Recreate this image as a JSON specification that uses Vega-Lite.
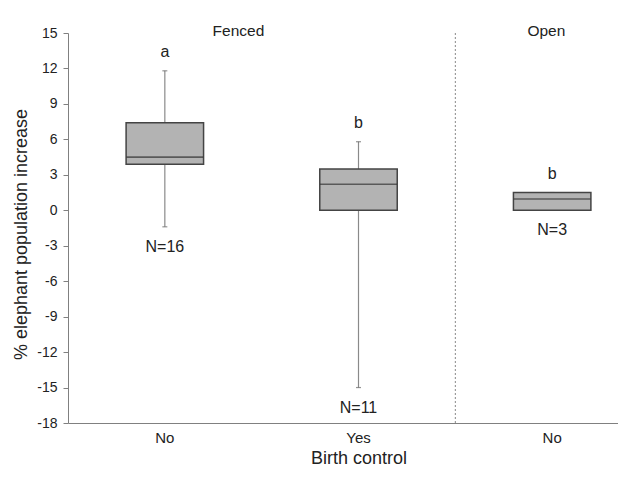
{
  "$schema": "https://vega.github.io/schema/vega-lite/v6.json",
  "width": 550,
  "height": 390,
  "autosize": {"type": "none"},
  "padding": {"left": 68, "top": 33, "right": 0, "bottom": 56},
  "background": "white",
  "config": {
    "view": {"stroke": null},
    "font": "Liberation Sans",
    "axis": {"grid": false, "domainColor": "#808080", "tickColor": "#808080", "labelColor": "#222", "titleColor": "#222", "labelFont": "Liberation Sans", "titleFont": "Liberation Sans", "titleFontWeight": "normal", "labelOverlap": false},
    "axisY": {"tickSize": 5, "labelFontSize": 14, "labelPadding": 6, "titleFontSize": 18, "titlePadding": 6, "titleY": 201}
  },
  "data": {
    "values": [
      {"key": "Fenced No", "site": "Fenced", "bc": "No", "min": -1.4, "q1": 3.9, "median": 4.5, "q3": 7.4, "max": 11.8, "letter": "a", "n": "N=16"},
      {"key": "Fenced Yes", "site": "Fenced", "bc": "Yes", "min": -15.0, "q1": 0.0, "median": 2.2, "q3": 3.5, "max": 5.8, "letter": "b", "n": "N=11"},
      {"key": "Open No", "site": "Open", "bc": "No", "min": 0.0, "q1": 0.0, "median": 0.95, "q3": 1.5, "max": 1.5, "letter": "b", "n": "N=3"}
    ]
  },
  "encoding": {
    "x": {
      "field": "key", "type": "nominal", "sort": null,
      "scale": {"range": [0, 581], "paddingInner": 0, "paddingOuter": 0},
      "axis": {"title": "Birth control", "labelAngle": 0, "ticks": false, "labelFontSize": 15, "labelPadding": 7, "titleFontSize": 18, "titlePadding": 4, "labelExpr": "split(datum.label, ' ')[1]"}
    }
  },
  "layer": [
    {
      "mark": {"type": "rule", "color": "#8a8a8a", "strokeWidth": 1.2},
      "encoding": {
        "y": {"field": "min", "type": "quantitative",
          "scale": {"domain": [-18, 15], "nice": false, "zero": false},
          "axis": {"title": "% elephant population increase", "values": [-18, -15, -12, -9, -6, -3, 0, 3, 6, 9, 12, 15], "labelExpr": "datum.value < 0 ? '-' + abs(datum.value) : '' + datum.value"}},
        "y2": {"field": "max"}
      }
    },
    {
      "mark": {"type": "tick", "color": "#666", "size": 5, "thickness": 1.2},
      "encoding": {"y": {"field": "min", "type": "quantitative", "axis": {"title": "% elephant population increase", "values": [-18, -15, -12, -9, -6, -3, 0, 3, 6, 9, 12, 15], "labelExpr": "datum.value < 0 ? '-' + abs(datum.value) : '' + datum.value"}}}
    },
    {
      "mark": {"type": "tick", "color": "#666", "size": 5, "thickness": 1.2},
      "encoding": {"y": {"field": "max", "type": "quantitative", "axis": {"title": "% elephant population increase", "values": [-18, -15, -12, -9, -6, -3, 0, 3, 6, 9, 12, 15], "labelExpr": "datum.value < 0 ? '-' + abs(datum.value) : '' + datum.value"}}}
    },
    {
      "mark": {"type": "bar", "width": {"band": 0.4}, "fill": "#b3b3b3", "stroke": "#444", "strokeWidth": 1.5},
      "encoding": {"y": {"field": "q1", "type": "quantitative", "axis": {"title": "% elephant population increase", "values": [-18, -15, -12, -9, -6, -3, 0, 3, 6, 9, 12, 15], "labelExpr": "datum.value < 0 ? '-' + abs(datum.value) : '' + datum.value"}}, "y2": {"field": "q3"}}
    },
    {
      "mark": {"type": "tick", "color": "#333", "size": 77, "thickness": 1.6},
      "encoding": {"y": {"field": "median", "type": "quantitative", "axis": {"title": "% elephant population increase", "values": [-18, -15, -12, -9, -6, -3, 0, 3, 6, 9, 12, 15], "labelExpr": "datum.value < 0 ? '-' + abs(datum.value) : '' + datum.value"}}}
    },
    {
      "mark": {"type": "text", "fontSize": 16, "color": "#222", "baseline": "bottom", "dy": -11},
      "encoding": {"y": {"field": "max", "type": "quantitative", "axis": {"title": "% elephant population increase", "values": [-18, -15, -12, -9, -6, -3, 0, 3, 6, 9, 12, 15], "labelExpr": "datum.value < 0 ? '-' + abs(datum.value) : '' + datum.value"}}, "text": {"field": "letter"}}
    },
    {
      "mark": {"type": "text", "fontSize": 16, "color": "#222", "baseline": "top", "dy": 12},
      "encoding": {"y": {"field": "min", "type": "quantitative", "axis": {"title": "% elephant population increase", "values": [-18, -15, -12, -9, -6, -3, 0, 3, 6, 9, 12, 15], "labelExpr": "datum.value < 0 ? '-' + abs(datum.value) : '' + datum.value"}}, "text": {"field": "n"}}
    },
    {
      "transform": [{"filter": "datum.key == 'Open No'"}],
      "mark": {"type": "rule", "color": "#888", "strokeDash": [2, 2], "strokeWidth": 1},
      "encoding": {
        "x": {"field": "key", "type": "nominal", "bandPosition": 0},
        "y": {"datum": -18, "type": "quantitative", "axis": {"title": "% elephant population increase", "values": [-18, -15, -12, -9, -6, -3, 0, 3, 6, 9, 12, 15], "labelExpr": "datum.value < 0 ? '-' + abs(datum.value) : '' + datum.value"}},
        "y2": {"datum": 15}
      }
    },
    {
      "transform": [{"filter": "datum.key == 'Fenced No'"}],
      "mark": {"type": "text", "fontSize": 15.5, "color": "#222", "baseline": "middle", "dy": -2},
      "encoding": {
        "x": {"field": "key", "type": "nominal", "bandPosition": 0.88},
        "y": {"datum": 15, "type": "quantitative", "axis": {"title": "% elephant population increase", "values": [-18, -15, -12, -9, -6, -3, 0, 3, 6, 9, 12, 15], "labelExpr": "datum.value < 0 ? '-' + abs(datum.value) : '' + datum.value"}},
        "text": {"field": "site"}
      }
    },
    {
      "transform": [{"filter": "datum.key == 'Open No'"}],
      "mark": {"type": "text", "fontSize": 15.5, "color": "#222", "baseline": "middle", "dy": -2},
      "encoding": {
        "x": {"field": "key", "type": "nominal", "bandPosition": 0.47},
        "y": {"datum": 15, "type": "quantitative", "axis": {"title": "% elephant population increase", "values": [-18, -15, -12, -9, -6, -3, 0, 3, 6, 9, 12, 15], "labelExpr": "datum.value < 0 ? '-' + abs(datum.value) : '' + datum.value"}},
        "text": {"field": "site"}
      }
    }
  ]
}
